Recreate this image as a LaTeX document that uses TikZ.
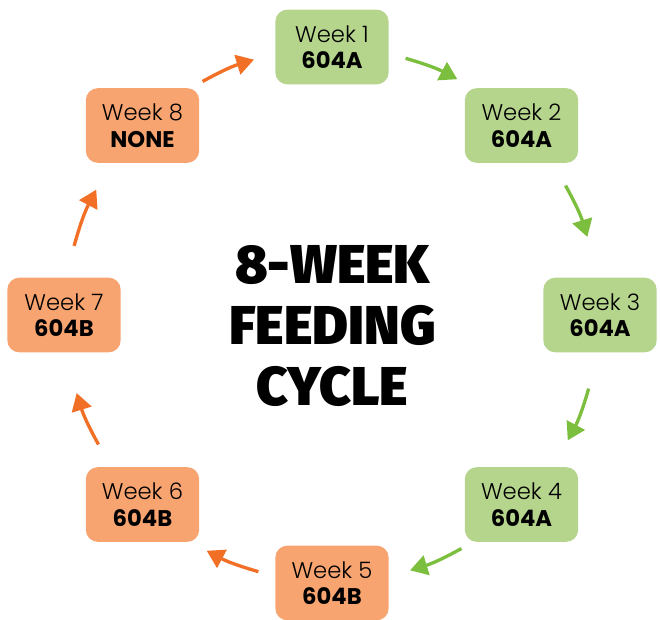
\documentclass[tikz,border=0pt]{standalone}
\usepackage{fontspec}
\setmainfont{Poppins}[UprightFont={* Light}, BoldFont={* Bold}]
\newfontfamily\titlefont{Fira Sans Black}
\usetikzlibrary{arrows.meta}

\definecolor{boxgreen}{HTML}{B5D48C}
\definecolor{boxorange}{HTML}{F7A470}
\definecolor{arrgreen}{HTML}{7CBF3F}
\definecolor{arrorange}{HTML}{F26F26}

\begin{document}
\begin{tikzpicture}[
          x=0.75pt, y=0.75pt,
          every node/.style={font=\fontsize{17}{20}\selectfont}
        ]

          % styles
          \tikzset{
            weekA/.style={rectangle, rounded corners=9pt, fill=boxgreen, minimum width=85pt, minimum height=56pt, align=center},
            weekB/.style={weekA, fill=boxorange},
            garr/.style={-{Triangle[length=13pt, width=15pt]}, line width=2.5pt, color=arrgreen, bend left=6},
            oarr/.style={garr, color=arrorange}
          }

          \useasboundingbox (-332,-305) rectangle (328,315);

          % title
          \node[font=\titlefont\fontsize{41}{46}\selectfont, align=center] (title) at (0.5,-11) {8-WEEK\\FEEDING\\CYCLE};

          % weeks
          \node[weekA] (w1) at (90:268) {Week 1\\\textbf{604A}};
          \node[weekA] (w2) at (45:268) {Week 2\\\textbf{604A}};
          \node[weekA] (w3) at (0:268) {Week 3\\\textbf{604A}};
          \node[weekA] (w4) at (-45:268) {Week 4\\\textbf{604A}};
          \node[weekB] (w5) at (-90:268) {Week 5\\\textbf{604B}};
          \node[weekB] (w6) at (-135:268) {Week 6\\\textbf{604B}};
          \node[weekB] (w7) at (180:268) {Week 7\\\textbf{604B}};
          \node[weekB] (w8) at (135:268) {Week 8\\\textbf{NONE}};

          % arrow ends
          \coordinate (s1) at (74:267);   \coordinate (e1) at (62:267);
          \coordinate (s2) at (29:267);   \coordinate (e2) at (17:267);
          \coordinate (s3) at (-16:267);  \coordinate (e3) at (-28:267);
          \coordinate (s4) at (-61:267);  \coordinate (e4) at (-73:267);
          \coordinate (s5) at (-106:267); \coordinate (e5) at (-118:267);
          \coordinate (s6) at (-151:267); \coordinate (e6) at (-163:267);
          \coordinate (s7) at (165:267);  \coordinate (e7) at (152:267);
          \coordinate (s8) at (119:267);  \coordinate (e8) at (107:267);

          % arrows
          \draw[garr] (s1) to (e1);   % week 1 -> week 2
          \draw[garr] (s2) to (e2);
          \draw[garr] (s3) to (e3);
          \draw[garr] (s4) to (e4);
          \draw[oarr] (s5) to (e5);   % week 5 -> week 6
          \draw[oarr] (s6) to (e6);
          \draw[oarr] (s7) to (e7);
          \draw[oarr] (s8) to (e8);

        \end{tikzpicture}
\end{document}
